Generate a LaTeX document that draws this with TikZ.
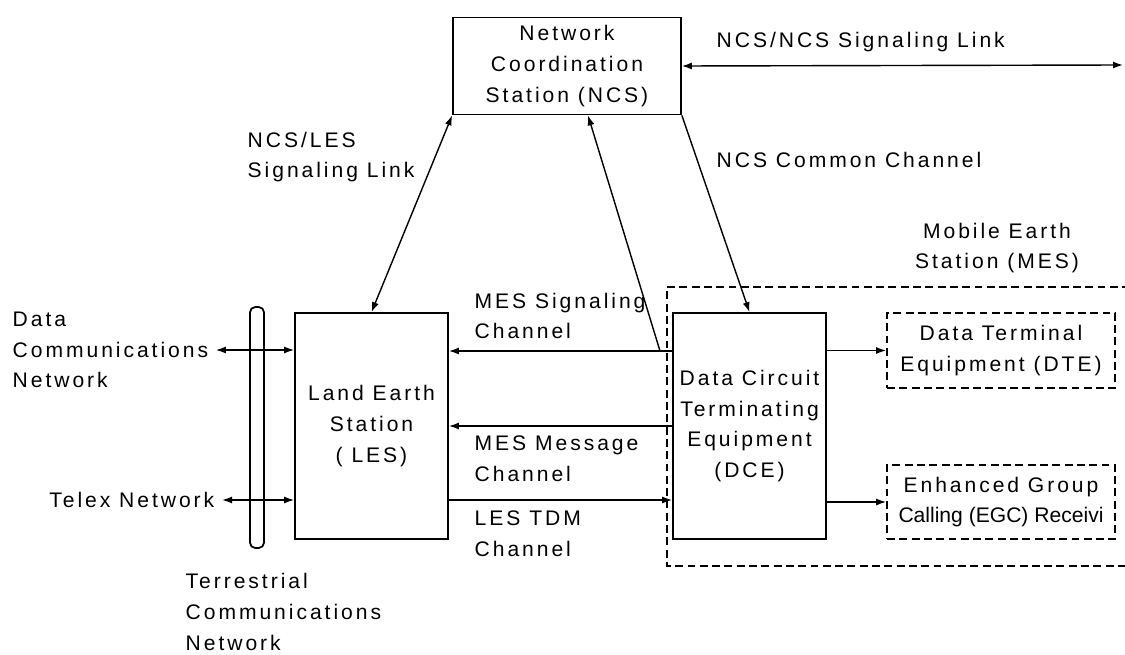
\documentclass[tikz,border=0pt]{standalone}
\usepackage{fontspec}
\setmainfont{Liberation Sans}[LetterSpace=14]
\usetikzlibrary{arrows.meta,calc}

\begin{document}
\begin{tikzpicture}[x=0.02cm, y=-0.02cm, line width=0.8pt, font=\fontsize{12}{17.5}\selectfont, box/.style={draw,line width=1pt,align=center,inner sep=0pt}, dbox/.style={box,dash pattern=on 4.5pt off 2.5pt}, lbl/.style={align=left,inner sep=0pt}, >={Latex[length=2mm,width=1.4mm]}]
\useasboundingbox (0,0) rectangle (1125,655);
\node[box,minimum width=4.56cm,minimum height=1.94cm] (ncs) at (567,66) {Network\\Coordination\\Station (NCS)};
\node[box,minimum width=3.06cm,minimum height=4.52cm] (les) at (371.5,426) {Land Earth\\Station\\( LES)};
\node[box,minimum width=3.06cm,minimum height=4.52cm] (dce) at (749.5,426) {Data Circuit\\Terminating\\Equipment\\(DCE)};
\node[dbox,minimum width=4.56cm,minimum height=1.5cm] (dte) at (1001,350.5) {Data Terminal\\Equipment (DTE)};
\node[dbox,minimum width=4.56cm,minimum height=1.48cm] (egc) at (1001,502) {Enhanced Group\\{\addfontfeature{LetterSpace=0}Calling (EGC) Receivi}};
\node[draw,line width=1pt,rounded corners=3pt,minimum width=0.28cm,minimum height=4.82cm,inner sep=0pt] (bus) at (257,427.5) {};
\node[lbl,inner xsep=4pt,anchor=west] (dcn) at (5,350) {Data\\Communications\\Network};
\node[lbl,inner xsep=4pt,anchor=east] (telex) at (222,500) {Telex Network};
\node[lbl,anchor=west] (tcn) at (185,612) {Terrestrial\\Communications\\Network};
\node[lbl,anchor=west] (nlsl) at (247,157) {NCS/LES\\Signaling Link};
\node[lbl,anchor=west] (nnsl) at (716,42) {NCS/NCS Signaling Link};
\node[lbl,anchor=west] (ncc) at (716,160) {NCS Common Channel};
\node[align=center,inner sep=0pt] (mes) at (997,248) {Mobile Earth\\Station (MES)};
\node[lbl,anchor=west] (msc) at (474,316) {MES Signaling\\Channel};
\node[lbl,anchor=west] (mmc) at (474,459) {MES Message\\Channel};
\node[lbl,anchor=west] (ltc) at (474,534) {LES TDM\\Channel};
\coordinate (r1) at (0,351); \coordinate (r3) at (0,500); \coordinate (tap) at (660,351); \coordinate (far) at (1123,65);
\draw[dash pattern=on 4.5pt off 2.5pt] (1130,287) -- (667,287) -- (667,566) -- (1130,566);
\draw[<->] (dcn.east) -- (les.west |- dcn.east); \draw[<->] (telex.east) -- (les.west |- telex.east);
\draw[<->] (les.north) -- (ncs.south west); \draw[<->] (ncs.east) -- (far);
\draw[->] (tap) -- ($(ncs.south)+(21,0)$); \draw[->] (ncs.south east) -- (dce.north);
\draw[->] (dce.west |- r1) -- (les.east |- r1); \draw[->] (dce.west) -- (les.east); \draw[->] (les.east |- r3) -- (dce.west |- r3);
\draw[->] (dce.east |- dte.west) -- (dte.west); \draw[->] (dce.east |- egc.west) -- (egc.west);
\end{tikzpicture}
\end{document}
